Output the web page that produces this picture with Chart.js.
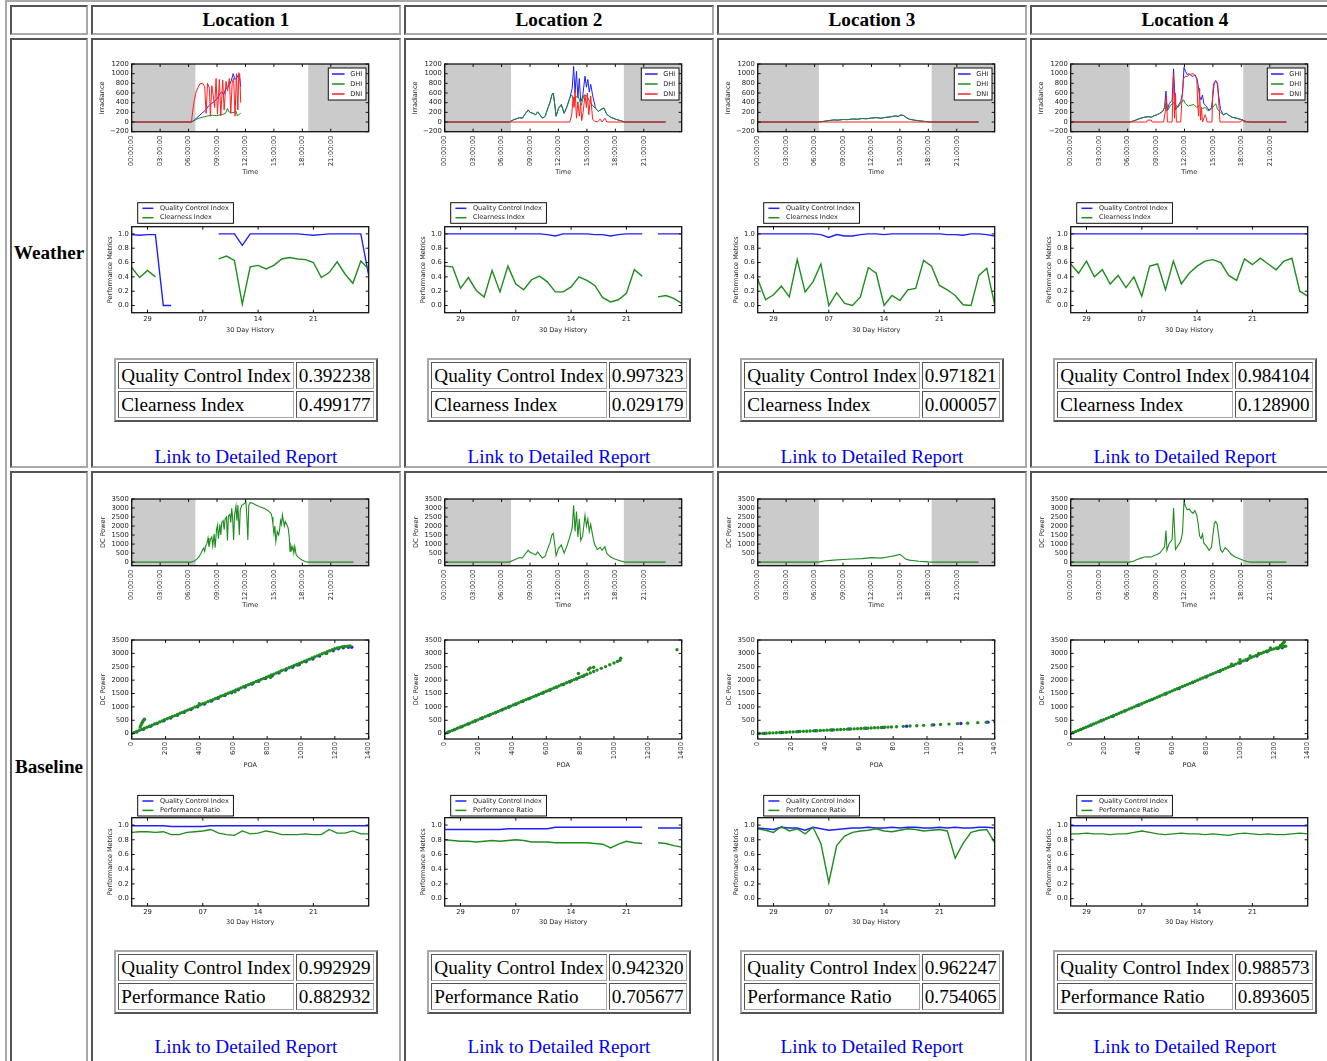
<!DOCTYPE html>
<html lang="en">
<head>
<meta charset="UTF-8">
<title>Site Status Overview</title>
<script src="https://cdn.jsdelivr.net/npm/chart.js@4.4.1/dist/chart.umd.min.js"></script>
<style>
  html, body { margin: 0; padding: 0; overflow: hidden; background: #fff; }
  body { font-family: "Liberation Serif", "Times New Roman", serif; font-size: 19.2px; color: #000; }
  table.grid { position: absolute; left: 5px; top: 0; border: 2px outset #a8a8a8; border-spacing: 3px; }
  td.c { border: 2px inset #a8a8a8; padding: 0; vertical-align: top; }
  .head { height: 26px; line-height: 26px; text-align: center; font-weight: bold; }
  .rowname { width: 74px; display: flex; align-items: center; justify-content: center; font-weight: bold; }
  .cell { position: relative; width: 306px; }
  .wx { height: 426px; }
  .base { height: 588px; }
  .cell canvas { position: absolute; left: 0; filter: blur(0.35px); }
  .sum { position: absolute; left: 0; width: 100%; }
  table.summary { margin: 0 auto; border: 2px outset #a8a8a8; border-spacing: 2px; }
  table.summary td { border: 1px inset #a8a8a8; padding: 1px 2px; line-height: 23px; white-space: nowrap; }
  .link { position: absolute; left: 0; width: 100%; text-align: center; line-height: 22px; }
  .link a { color: #0000ee; text-decoration: none; }
</style>
</head>
<body>
<table class="grid" id="grid"></table>
<script>
// ---- axes ----
const hourTicks = [0, 3, 6, 9, 12, 15, 18, 21];
const hourLabels = ['00:00:00', '03:00:00', '06:00:00', '09:00:00', '12:00:00', '15:00:00', '18:00:00', '21:00:00'];
const irradianceTicks = [-200, 0, 200, 400, 600, 800, 1000, 1200];
const powerTicks = [0, 500, 1000, 1500, 2000, 2500, 3000, 3500];
const metricTicks = [0, 0.2, 0.4, 0.6, 0.8, 1.0];
const dayTicks = [2, 9, 16, 23];
const dayLabels = ['29', '07', '14', '21'];
const poaTicks = [0, 200, 400, 600, 800, 1000, 1200, 1400];
const poaTicksLow = [0, 20, 40, 60, 80, 100, 120, 140];

const locations = ['Location 1', 'Location 2', 'Location 3', 'Location 4'];
const sunrise = [6.72, 7.0, 6.45, 6.23];
const sunset = [18.62, 18.9, 18.35, 18.2];

const weatherQci = ['0.392238', '0.997323', '0.971821', '0.984104'];
const clearness = ['0.499177', '0.029179', '0.000057', '0.128900'];
const baselineQci = ['0.992929', '0.942320', '0.962247', '0.988573'];
const perfRatio = ['0.882932', '0.705677', '0.754065', '0.893605'];

// ---- daily irradiance, [hour, W/m2] ----
const loc1Ghi = [[0,0],[6.3,0],[6.6,40],[7.0,110],[7.4,180],[7.8,250],[8.1,330],[8.4,380],[8.7,420],[9.0,480],[9.3,590],[9.5,620],[9.7,560],[9.9,680],[10.1,720],[10.3,770],[10.5,850],[10.7,1000],[10.9,880],[11.1,920],[11.3,990],[11.4,900],[11.5,730]];
const loc1Dhi = [[0,0],[6.3,0],[6.7,40],[7.0,75],[7.5,100],[8.0,125],[8.5,140],[9.0,130],[9.3,150],[9.6,160],[9.9,180],[10.1,280],[10.25,210],[10.5,190],[10.8,200],[11.0,230],[11.15,130],[11.3,150],[11.5,190]];
const loc1Dni = [[0,0],[6.3,0],[6.45,250],[6.6,450],[6.8,620],[7.0,720],[7.2,790],[7.5,800],[7.7,730],[7.85,180],[8.0,800],[8.2,700],[8.3,120],[8.45,750],[8.6,560],[8.75,300],[8.9,900],[9.05,160],[9.25,880],[9.4,130],[9.6,870],[9.75,250],[9.95,840],[10.1,640],[10.3,900],[10.45,180],[10.6,820],[10.75,900],[10.9,120],[11.05,1000],[11.2,250],[11.3,1020],[11.4,980],[11.5,400]];

const loc2Ghi = [[0,0],[6.8,0],[7.3,50],[7.6,70],[7.9,90],[8.2,80],[8.5,170],[8.8,250],[9.0,200],[9.3,180],[9.6,150],[9.8,210],[10.0,160],[10.3,80],[10.6,120],[10.9,300],[11.1,400],[11.3,560],[11.45,600],[11.6,380],[11.75,120],[12.0,280],[12.3,360],[12.6,180],[12.9,320],[13.2,500],[13.45,700],[13.6,1150],[13.75,600],[13.9,1050],[14.05,500],[14.2,900],[14.35,420],[14.55,520],[14.8,950],[14.95,720],[15.1,880],[15.25,620],[15.4,780],[15.6,560],[15.9,290],[16.2,220],[16.5,260],[16.8,290],[17.1,160],[17.5,100],[18.0,60],[18.5,30],[19.0,0],[23.3,0]];
const loc2Dhi = [[0,0],[6.8,0],[7.3,50],[7.6,70],[7.9,90],[8.2,80],[8.5,170],[8.8,250],[9.0,200],[9.3,180],[9.6,150],[9.8,210],[10.0,160],[10.3,80],[10.6,120],[10.9,300],[11.1,400],[11.3,560],[11.45,600],[11.6,380],[11.75,120],[12.0,280],[12.3,360],[12.6,180],[12.9,320],[13.2,500],[13.4,560],[13.6,450],[13.8,520],[14.1,520],[14.4,350],[14.7,560],[15.0,540],[15.3,420],[15.6,340],[15.9,280],[16.2,220],[16.5,260],[16.8,290],[17.1,160],[17.5,100],[18.0,60],[18.5,30],[19.0,0],[23.3,0]];
const loc2Dni = [[0,0],[13.2,0],[13.4,150],[13.55,520],[13.65,300],[13.75,660],[13.9,80],[14.05,420],[14.2,120],[14.35,380],[14.45,30],[14.6,200],[14.8,560],[14.95,300],[15.05,600],[15.2,150],[15.4,540],[15.6,60],[15.8,20],[16.1,0],[16.4,60],[16.6,0],[16.9,80],[17.1,0],[23.3,0]];

const loc3Ghi = [[0,0],[6.4,0],[7.0,15],[7.5,30],[8.0,42],[8.5,40],[9.0,52],[9.5,50],[10.0,62],[10.5,58],[11.0,72],[11.5,68],[12.0,82],[12.5,92],[13.0,78],[13.5,98],[14.0,108],[14.5,128],[14.8,116],[15.1,148],[15.4,136],[15.7,88],[16.0,58],[16.5,40],[17.0,25],[17.5,15],[18.0,5],[18.4,0],[23.3,0]];
const loc3Dhi = [[0,0],[6.4,0],[7.0,15],[7.5,30],[8.0,42],[8.5,40],[9.0,52],[9.5,50],[10.0,62],[10.5,58],[11.0,72],[11.5,68],[12.0,82],[12.5,90],[13.0,78],[13.5,96],[14.0,105],[14.5,125],[14.8,115],[15.1,140],[15.4,132],[15.7,88],[16.0,58],[16.5,40],[17.0,25],[17.5,15],[18.0,5],[18.4,0],[23.3,0]];
const loc3Dni = [[0,0],[23.3,0]];

const loc4Ghi = [[0,0],[6.2,0],[6.6,20],[7.0,50],[7.4,80],[7.8,100],[8.2,110],[8.5,100],[8.8,130],[9.1,150],[9.4,180],[9.7,220],[9.9,300],[10.05,640],[10.15,230],[10.4,380],[10.7,450],[10.85,1100],[10.95,700],[11.05,250],[11.3,330],[11.6,420],[11.8,600],[11.95,1130],[12.1,1050],[12.3,980],[12.5,1000],[12.7,960],[12.9,940],[13.1,980],[13.3,900],[13.45,760],[13.6,520],[13.75,460],[13.9,560],[14.05,380],[14.3,330],[14.6,240],[14.85,300],[15.0,550],[15.15,820],[15.3,860],[15.45,800],[15.6,560],[15.8,260],[16.1,150],[16.4,180],[16.7,140],[17.0,100],[17.5,80],[18.0,50],[18.5,10],[19.0,0],[22.75,0]];
const loc4Dhi = [[0,0],[6.2,0],[6.6,20],[7.0,50],[7.4,80],[7.8,100],[8.2,110],[8.5,100],[8.8,130],[9.1,150],[9.4,180],[9.7,220],[9.9,300],[10.1,420],[10.25,250],[10.5,330],[10.8,400],[11.0,380],[11.3,300],[11.6,380],[11.9,460],[12.1,380],[12.4,330],[12.7,350],[13.0,360],[13.3,300],[13.6,340],[13.9,280],[14.2,300],[14.5,230],[14.8,260],[15.1,330],[15.3,380],[15.5,260],[15.8,200],[16.1,150],[16.4,180],[16.7,140],[17.0,100],[17.5,80],[18.0,50],[18.5,10],[19.0,0],[22.75,0]];
const loc4Dni = [[0,0],[8.0,0],[8.1,40],[8.5,40],[8.6,0],[9.8,0],[10.0,250],[10.1,550],[10.2,0],[10.7,0],[10.85,1000],[10.95,80],[11.05,600],[11.15,0],[11.6,0],[11.75,500],[11.9,900],[12.1,950],[12.3,940],[12.5,980],[12.7,990],[12.9,1000],[13.1,970],[13.3,900],[13.4,350],[13.5,120],[13.6,700],[13.7,40],[13.8,300],[13.9,0],[14.2,150],[14.4,0],[14.9,0],[15.0,650],[15.1,800],[15.3,830],[15.5,810],[15.65,300],[15.75,0],[17.9,0],[18.1,60],[18.3,0],[22.75,0]];

// ---- daily DC power, [hour, W] ----
const loc1Power = [[0,0],[6.3,0],[6.6,60],[6.9,180],[7.1,300],[7.3,480],[7.45,650],[7.6,780],[7.7,600],[7.8,900],[7.95,1050],[8.05,1330],[8.15,850],[8.3,1250],[8.45,1400],[8.55,900],[8.7,1550],[8.8,800],[8.95,1800],[9.05,2050],[9.15,1300],[9.3,2100],[9.4,1500],[9.5,2200],[9.65,2300],[9.75,1800],[9.85,2380],[10.0,2500],[10.1,1200],[10.2,2550],[10.35,2650],[10.45,2200],[10.55,2980],[10.65,2400],[10.75,1230],[10.85,2600],[11.0,3100],[11.1,2300],[11.2,3170],[11.35,1500],[11.45,2900],[11.6,3150],[11.75,3200],[11.9,3250],[12.05,3330],[12.15,2500],[12.25,1230],[12.35,3150],[12.5,3300],[12.7,3280],[12.9,3220],[13.1,3170],[13.3,3120],[13.5,3075],[13.8,3020],[14.0,2980],[14.3,2880],[14.5,2800],[14.7,2700],[14.8,2500],[14.9,2100],[15.0,1600],[15.1,2000],[15.2,1140],[15.35,1700],[15.5,1500],[15.6,1790],[15.7,2300],[15.8,2100],[15.9,2615],[16.0,2300],[16.1,2000],[16.2,2250],[16.35,2100],[16.5,1900],[16.6,1500],[16.7,600],[16.8,900],[16.9,700],[17.0,850],[17.1,500],[17.2,870],[17.35,400],[17.5,300],[17.7,220],[18.0,100],[18.3,30],[18.6,0],[23.4,0]];
const loc2Power = [[0,0],[6.8,0],[7.3,120],[7.6,180],[7.9,250],[8.2,230],[8.5,450],[8.8,650],[9.0,550],[9.3,480],[9.6,400],[9.8,560],[10.0,430],[10.3,230],[10.6,330],[10.9,800],[11.1,1050],[11.3,1500],[11.45,1600],[11.6,1000],[11.75,350],[12.0,750],[12.3,950],[12.6,500],[12.9,900],[13.2,1400],[13.45,1900],[13.6,3150],[13.75,1700],[13.9,2800],[14.05,1400],[14.2,2400],[14.35,1200],[14.55,1450],[14.8,2600],[14.95,2000],[15.1,2400],[15.25,1700],[15.4,2100],[15.6,1500],[15.8,1000],[16.1,700],[16.4,820],[16.6,650],[16.9,850],[17.1,480],[17.5,280],[18.0,160],[18.5,80],[19.0,0],[23.3,0]];
const loc3Power = [[0,0],[6.4,0],[7.0,60],[8.0,110],[9.0,140],[10.0,170],[11.0,190],[12.0,250],[13.0,220],[14.0,310],[14.5,360],[15.0,430],[15.3,320],[15.6,170],[16.0,110],[17.0,50],[18.0,10],[18.4,0],[23.3,0]];
const loc4Power = [[0,0],[6.2,0],[6.6,50],[7.0,140],[7.4,220],[7.8,280],[8.2,300],[8.5,280],[8.8,360],[9.1,420],[9.4,500],[9.7,700],[9.9,850],[10.05,1750],[10.15,650],[10.4,1050],[10.7,1250],[10.85,3000],[10.95,1900],[11.05,700],[11.3,900],[11.6,1150],[11.8,1650],[11.95,3400],[12.1,3100],[12.3,2900],[12.5,2950],[12.7,2800],[12.9,2700],[13.1,2850],[13.3,2600],[13.45,2100],[13.6,1450],[13.75,1300],[13.9,1550],[14.05,1050],[14.3,900],[14.6,650],[14.85,820],[15.0,1500],[15.15,2150],[15.3,2250],[15.45,2100],[15.6,1500],[15.8,700],[16.0,550],[16.3,800],[16.6,650],[16.9,450],[17.3,300],[17.8,180],[18.2,100],[18.6,30],[19.0,0],[22.75,0]];

// ---- POA vs DC power, [W/m2, W] ----
const loc1ScatterModel = [[30,60],[70,165],[110,270],[150,375],[190,480],[230,585],[270,690],[310,800],[350,900],[390,1005],[430,1110],[470,1215],[510,1320],[550,1430],[590,1530],[630,1640],[670,1745],[710,1850],[750,1955],[790,2060],[830,2165],[870,2270],[910,2375],[950,2480],[990,2580],[1030,2690],[1070,2790],[1110,2900],[1150,3000],[1190,3100],[1220,3170],[1250,3210],[1280,3230],[1300,3230]];
const loc1ScatterMeas = [[0,10],[15,45],[30,85],[45,125],[50,250],[55,320],[60,390],[65,450],[70,500],[75,540],[60,160],[75,200],[90,240],[105,280],[120,315],[135,360],[150,395],[165,440],[180,475],[195,520],[210,555],[225,600],[240,640],[255,675],[270,715],[285,760],[300,795],[315,835],[330,880],[345,915],[360,955],[375,1000],[390,1035],[400,1120],[405,1075],[420,1115],[435,1150],[450,1195],[465,1235],[480,1270],[495,1315],[510,1350],[525,1395],[540,1430],[555,1475],[570,1510],[585,1550],[600,1590],[610,1560],[615,1635],[630,1670],[645,1710],[660,1750],[675,1790],[690,1830],[705,1870],[720,1905],[735,1950],[750,1985],[765,2030],[780,2065],[795,2110],[810,2145],[820,2100],[825,2190],[840,2225],[855,2270],[870,2305],[885,2350],[900,2385],[915,2430],[930,2465],[945,2505],[960,2545],[975,2590],[980,2560],[990,2625],[1005,2665],[1020,2705],[1035,2745],[1050,2785],[1065,2825],[1080,2865],[1095,2905],[1110,2945],[1125,2985],[1140,3020],[1150,3000],[1155,3065],[1170,3100],[1185,3140],[1200,3175],[1215,3200],[1230,3225],[1245,3245],[1260,3260],[1275,3270],[1290,3275]];
const loc2ScatterModel = [[20,50],[60,155],[100,260],[140,365],[180,470],[220,575],[260,680],[300,785],[340,890],[380,995],[420,1100],[460,1205],[500,1310],[540,1415],[580,1520],[620,1625],[660,1730],[700,1835],[740,1940],[780,2045],[820,2150]];
const loc2ScatterMeas = [[0,5],[15,40],[30,80],[45,120],[60,160],[75,200],[90,240],[105,280],[120,320],[135,355],[150,395],[165,435],[180,475],[195,515],[210,555],[225,595],[240,635],[255,675],[270,715],[285,750],[300,790],[315,830],[330,870],[345,910],[360,950],[375,990],[390,1030],[405,1070],[420,1110],[435,1150],[450,1190],[465,1230],[480,1270],[495,1305],[510,1345],[525,1385],[540,1425],[555,1465],[570,1505],[585,1545],[600,1585],[615,1625],[630,1665],[645,1705],[660,1745],[675,1785],[690,1825],[705,1860],[720,1900],[735,1940],[750,1980],[765,2020],[780,2060],[790,2250],[795,2100],[810,2140],[825,2180],[840,2220],[850,2400],[860,2270],[860,2460],[880,2320],[880,2480],[900,2375],[925,2440],[950,2505],[975,2575],[1000,2640],[1020,2700],[1035,2740],[1040,2820],[1372,3140]];
const loc3ScatterModel = [[4,12],[14,44],[24,76],[34,107],[44,139],[54,171],[64,202],[74,234],[88,278],[104,329],[120,379],[136,430]];
const loc3ScatterMeas = [[1,3],[3,9],[5,16],[7,22],[9,28],[11,35],[13,41],[15,47],[17,54],[19,60],[21,66],[23,73],[25,79],[27,85],[29,92],[31,98],[33,104],[35,111],[37,117],[39,123],[41,130],[43,136],[45,142],[47,149],[49,155],[51,161],[53,168],[55,174],[57,180],[59,187],[61,193],[63,199],[65,206],[67,212],[69,218],[71,225],[73,231],[75,237],[77,244],[79,250],[82,259],[86,272],[90,285],[94,297],[98,310],[103,326],[108,342],[113,357],[118,373],[124,392],[130,411],[135,427],[140,443]];
const loc4ScatterModel = [[15,40],[60,160],[120,320],[180,480],[250,650],[320,850],[400,1060],[480,1270],[560,1480],[640,1690],[720,1910],[800,2120],[880,2330],[960,2550],[1000,2640],[1040,2740],[1100,2900],[1160,3060],[1220,3180],[1250,3210]];
const loc4ScatterMeas = [[0,5],[15,40],[30,80],[45,120],[60,160],[75,200],[90,240],[105,280],[120,320],[135,360],[150,400],[165,440],[180,480],[195,520],[210,560],[225,600],[240,640],[255,680],[270,720],[285,760],[300,800],[315,840],[330,880],[345,920],[360,960],[375,1000],[390,1040],[405,1080],[420,1120],[435,1160],[450,1200],[465,1240],[480,1280],[495,1320],[510,1360],[525,1400],[540,1440],[555,1480],[570,1520],[585,1560],[600,1600],[615,1640],[630,1680],[645,1720],[660,1760],[675,1800],[690,1840],[705,1880],[720,1920],[735,1960],[750,2000],[765,2040],[780,2080],[795,2120],[810,2160],[825,2200],[840,2240],[855,2280],[870,2320],[885,2360],[900,2400],[915,2440],[930,2480],[945,2520],[950,2600],[960,2560],[975,2600],[990,2640],[1000,2760],[1005,2680],[1020,2720],[1035,2760],[1050,2800],[1060,2900],[1065,2840],[1080,2880],[1095,2920],[1110,2960],[1110,3000],[1125,3000],[1140,3040],[1155,3080],[1170,3110],[1180,3200],[1185,3140],[1200,3170],[1215,3200],[1225,3180],[1230,3220],[1240,3300],[1245,3240],[1250,3350],[1258,3400],[1260,3260],[1262,3430],[1270,3270]];

// ---- 30 day history, one value per day ----
const loc1WxQci = [0.99,0.98,0.99,0.99,0.0,0.0,null,null,null,null,null,1.0,1.0,1.0,0.84,1.0,1.0,1.0,1.0,1.0,1.0,1.0,0.99,0.98,0.99,1.0,1.0,1.0,1.0,1.0,0.42];
const loc1Clearness = [0.53,0.39,0.49,0.40,null,null,null,null,null,null,null,0.65,0.69,0.63,0.02,0.54,0.56,0.51,0.56,0.65,0.67,0.65,0.64,0.60,0.39,0.46,0.61,0.44,0.31,0.62,0.51];
const loc2WxQci = [1.0,1.0,1.0,1.0,1.0,1.0,1.0,1.0,1.0,1.0,1.0,1.0,1.0,0.99,0.97,1.0,1.0,1.0,1.0,0.99,0.99,0.97,0.99,1.0,1.0,1.0,null,1.0,1.0,1.0,1.0];
const loc2Clearness = [0.55,0.54,0.24,0.39,0.21,0.12,0.49,0.19,0.55,0.30,0.22,0.36,0.41,0.33,0.19,0.19,0.26,0.40,0.35,0.28,0.11,0.05,0.08,0.17,0.50,0.41,null,0.12,0.14,0.10,0.03];
const loc3WxQci = [1.0,1.0,1.0,1.0,1.0,1.0,1.0,1.0,0.99,0.95,0.99,0.97,0.97,0.99,1.0,1.0,0.99,1.0,1.0,1.0,1.0,1.0,1.0,1.0,0.99,0.99,0.98,1.0,1.0,0.99,0.97];
const loc3Clearness = [0.37,0.08,0.15,0.27,0.12,0.64,0.19,0.33,0.58,0.0,0.18,0.03,0.0,0.12,0.53,0.45,0.0,0.14,0.07,0.22,0.24,0.63,0.55,0.28,0.22,0.14,0.01,0.0,0.42,0.52,0.01];
const loc4WxQci = [1.0,1.0,1.0,1.0,1.0,1.0,1.0,1.0,1.0,1.0,1.0,1.0,1.0,1.0,1.0,1.0,1.0,1.0,1.0,1.0,1.0,1.0,1.0,1.0,1.0,1.0,1.0,1.0,1.0,1.0,1.0];
const loc4Clearness = [0.58,0.45,0.62,0.40,0.50,0.30,0.42,0.25,0.40,0.13,0.55,0.58,0.22,0.62,0.30,0.45,0.55,0.62,0.64,0.60,0.42,0.35,0.65,0.57,0.66,0.58,0.50,0.62,0.66,0.20,0.13];

const loc1BaseQci = [0.99,0.99,0.99,0.99,0.99,0.98,0.98,0.98,0.98,0.98,0.99,0.99,0.99,0.99,0.99,0.99,0.99,0.99,0.99,0.99,0.99,0.99,0.99,0.99,0.99,0.99,0.99,0.99,0.99,0.99,0.99];
const loc1Pr = [0.90,0.91,0.91,0.90,0.91,0.87,0.87,0.90,0.91,0.92,0.94,0.89,0.87,0.86,0.92,0.88,0.89,0.92,0.90,0.87,0.87,0.87,0.88,0.87,0.87,0.94,0.89,0.89,0.92,0.88,0.88];
const loc2BaseQci = [0.94,0.94,0.94,0.94,0.94,0.94,0.94,0.94,0.95,0.95,0.95,0.95,0.95,0.95,0.97,0.97,0.97,0.97,0.97,0.97,0.97,0.97,0.97,0.97,0.97,0.97,null,0.96,0.96,0.96,0.96];
const loc2Pr = [0.80,0.79,0.78,0.78,0.77,0.78,0.79,0.78,0.79,0.80,0.79,0.77,0.77,0.77,0.76,0.76,0.76,0.76,0.76,0.75,0.74,0.69,0.74,0.78,0.76,0.75,null,0.76,0.75,0.72,0.70];
const loc3BaseQci = [0.96,0.95,0.94,0.97,0.96,0.96,0.93,0.97,0.95,0.93,0.94,0.95,0.96,0.96,0.97,0.96,0.96,0.97,0.96,0.97,0.97,0.96,0.96,0.97,0.96,0.97,0.96,0.96,0.97,0.97,0.96];
const loc3Pr = [0.95,0.93,0.90,0.98,0.92,0.95,0.88,0.97,0.75,0.22,0.72,0.85,0.90,0.92,0.93,0.95,0.92,0.91,0.93,0.95,0.94,0.92,0.93,0.94,0.92,0.55,0.75,0.90,0.93,0.94,0.76];
const loc4BaseQci = [0.99,0.99,0.99,0.99,0.99,0.99,0.99,0.99,0.99,0.99,0.99,0.99,0.99,0.99,0.99,0.99,0.99,0.99,0.99,0.99,0.99,0.99,0.99,0.99,0.99,0.99,0.99,0.99,0.99,0.99,0.99];
const loc4Pr = [0.88,0.88,0.89,0.88,0.88,0.87,0.88,0.88,0.90,0.92,0.90,0.88,0.87,0.88,0.89,0.88,0.88,0.87,0.88,0.87,0.86,0.88,0.89,0.88,0.87,0.88,0.87,0.87,0.88,0.89,0.88];

const ghiByLoc = [loc1Ghi, loc2Ghi, loc3Ghi, loc4Ghi];
const dhiByLoc = [loc1Dhi, loc2Dhi, loc3Dhi, loc4Dhi];
const dniByLoc = [loc1Dni, loc2Dni, loc3Dni, loc4Dni];
const powerByLoc = [loc1Power, loc2Power, loc3Power, loc4Power];
const modelByLoc = [loc1ScatterModel, loc2ScatterModel, loc3ScatterModel, loc4ScatterModel];
const measByLoc = [loc1ScatterMeas, loc2ScatterMeas, loc3ScatterMeas, loc4ScatterMeas];
const poaTicksByLoc = [poaTicks, poaTicks, poaTicksLow, poaTicks];
const wxQciByLoc = [loc1WxQci, loc2WxQci, loc3WxQci, loc4WxQci];
const clearnessByLoc = [loc1Clearness, loc2Clearness, loc3Clearness, loc4Clearness];
const baseQciByLoc = [loc1BaseQci, loc2BaseQci, loc3BaseQci, loc4BaseQci];
const prByLoc = [loc1Pr, loc2Pr, loc3Pr, loc4Pr];

// ---- page skeleton ----
const grid = document.getElementById('grid');
let rows = '<tr><td class="c"><div class="head" style="width:74px"></div></td>' +
  locations.map(n => `<td class="c"><div class="head" style="width:306px">${n}</div></td>`).join('') + '</tr>';

rows += '<tr><td class="c"><div class="rowname wx">Weather</div></td>' + locations.map((n, i) => `
  <td class="c"><div class="cell wx">
    <canvas id="irr${i}" width="306" height="140" style="top:0"></canvas>
    <canvas id="wxm${i}" width="306" height="148" style="top:150px"></canvas>
    <div class="sum" style="top:318px"><table class="summary">
      <tr><td>Quality Control Index</td><td>${weatherQci[i]}</td></tr>
      <tr><td>Clearness Index</td><td>${clearness[i]}</td></tr>
    </table></div>
    <div class="link" style="top:405.7px"><a href="#">Link to Detailed Report</a></div>
  </div></td>`).join('') + '</tr>';

rows += '<tr><td class="c"><div class="rowname base">Baseline</div></td>' + locations.map((n, i) => `
  <td class="c"><div class="cell base">
    <canvas id="pow${i}" width="306" height="140" style="top:0"></canvas>
    <canvas id="poa${i}" width="306" height="160" style="top:140px"></canvas>
    <canvas id="bam${i}" width="306" height="157" style="top:300px"></canvas>
    <div class="sum" style="top:477px"><table class="summary">
      <tr><td>Quality Control Index</td><td>${baselineQci[i]}</td></tr>
      <tr><td>Performance Ratio</td><td>${perfRatio[i]}</td></tr>
    </table></div>
    <div class="link" style="top:562.7px"><a href="#">Link to Detailed Report</a></div>
  </div></td>`).join('') + '</tr>';
grid.innerHTML = rows;

// ---- chart styling ----
const ink = '#1c1c1c';
const tickFont = { family: 'DejaVu Sans', size: 6.8 };
const titleFont = { family: 'DejaVu Sans', size: 6.5 };
const AREA_LEFT = 38.7;
const AREA_RIGHT = 275.7;
const BLUE = '#1f1fff';
const GREEN = '#1e8c1e';
const RED = '#ff1f1f';

// grey night-time bands behind the daily curves
const nightShade = {
  id: 'nightShade',
  beforeDatasetsDraw(chart, args, opts) {
    const { ctx, chartArea: a, scales: { x } } = chart;
    const rise = x.getPixelForValue(opts.sunrise);
    const set = x.getPixelForValue(opts.sunset);
    ctx.save();
    ctx.fillStyle = opts.color;
    ctx.fillRect(a.left, a.top, rise - a.left, a.bottom - a.top);
    ctx.fillRect(set, a.top, a.right - set, a.bottom - a.top);
    ctx.restore();
  }
};

// boxed axes with short inward ticks on all four sides
const axesFrame = {
  id: 'axesFrame',
  afterDatasetsDraw(chart) {
    const { ctx, chartArea: a, scales: { x, y } } = chart;
    const len = 3;
    ctx.save();
    ctx.strokeStyle = '#111';
    ctx.lineWidth = 1;
    ctx.beginPath();
    x.ticks.forEach(t => {
      const px = x.getPixelForValue(t.value);
      ctx.moveTo(px, a.bottom); ctx.lineTo(px, a.bottom - len);
      ctx.moveTo(px, a.top); ctx.lineTo(px, a.top + len);
    });
    y.ticks.forEach(t => {
      const py = y.getPixelForValue(t.value);
      ctx.moveTo(a.left, py); ctx.lineTo(a.left + len, py);
      ctx.moveTo(a.right, py); ctx.lineTo(a.right - len, py);
    });
    ctx.stroke();
    ctx.lineWidth = 1.3;
    ctx.strokeRect(a.left, a.top, a.right - a.left, a.bottom - a.top);
    ctx.restore();
  }
};

// framed legend, either inside the top-right corner or above the axes
const boxLegend = {
  id: 'boxLegend',
  afterDraw(chart, args, o) {
    const { ctx, chartArea: a } = chart;
    const items = chart.data.datasets.filter(d => d.label);
    ctx.save();
    ctx.font = `${o.fontSize}px "DejaVu Sans"`;
    const textW = Math.max(...items.map(d => ctx.measureText(d.label).width));
    const w = o.padX * 2 + o.sample + o.gap + textW;
    const h = o.padY * 2 + o.rowHeight * items.length;
    const left = o.place === 'inside' ? a.right - o.dx - w : a.left + o.dx;
    const top = o.place === 'inside' ? a.top + o.dy : a.top - o.dy - h;
    ctx.fillStyle = '#fff';
    ctx.fillRect(left, top, w, h);
    ctx.strokeStyle = '#111';
    ctx.lineWidth = 1;
    ctx.strokeRect(left, top, w, h);
    items.forEach((d, i) => {
      const cy = top + o.padY + o.rowHeight * (i + 0.5);
      ctx.strokeStyle = d.borderColor;
      ctx.lineWidth = 1.5;
      ctx.beginPath();
      ctx.moveTo(left + o.padX, cy);
      ctx.lineTo(left + o.padX + o.sample, cy);
      ctx.stroke();
      ctx.fillStyle = ink;
      ctx.textBaseline = 'middle';
      ctx.fillText(d.label, left + o.padX + o.sample + o.gap, cy);
    });
    ctx.restore();
  }
};

const insideLegend = { place: 'inside', dx: 2.7, dy: 4, padX: 3.7, padY: 1, sample: 12.6, gap: 5.7, rowHeight: 10, fontSize: 6.6 };
const aboveLegend = (dy) => ({ place: 'above', dx: 6, dy, padX: 4.7, padY: 0.9, sample: 11, gap: 6.6, rowHeight: 9.4, fontSize: 6.5 });

const signed = v => (v < 0 ? '\u2212' + (-v) : String(v));

function axisSpec(s, horizontal, size) {
  return {
    type: 'linear',
    bounds: 'data',
    min: s.min,
    max: s.max,
    afterBuildTicks: ax => { ax.ticks = s.ticks.map(v => ({ value: v })); },
    afterFit: ax => { if (horizontal) ax.height = size; else ax.width = size; },
    ticks: {
      autoSkip: false,
      minRotation: s.rotate || 0,
      maxRotation: s.rotate || 0,
      padding: s.pad,
      font: tickFont,
      color: ink,
      callback: (v, i) => s.labels[i]
    },
    grid: { display: false, drawTicks: false },
    border: { display: false },
    title: {
      display: true, text: s.title, font: titleFont, color: ink,
      padding: horizontal ? { top: 0, bottom: 3.4 } : { top: s.titlePad, bottom: 0 }
    }
  };
}

function draw(id, type, datasets, frame, extras) {
  const canvas = document.getElementById(id);
  return new Chart(canvas, {
    type,
    data: { datasets },
    options: {
      responsive: false,
      animation: false,
      events: [],
      devicePixelRatio: 1,
      layout: { padding: { left: 0, top: frame.top, right: canvas.width - AREA_RIGHT, bottom: 0 } },
      plugins: {
        legend: { display: false },
        tooltip: { enabled: false },
        nightShade: extras.night || false,
        boxLegend: extras.legend || false
      },
      scales: {
        x: axisSpec(frame.x, true, canvas.height - frame.bottom),
        y: axisSpec(frame.y, false, AREA_LEFT)
      }
    },
    plugins: [nightShade, axesFrame, boxLegend]
  });
}

// later series in each list are painted over the earlier ones
const stacked = sets => sets.map((d, k) => ({ ...d, order: sets.length - k }));

const pts = pairs => pairs.map(([x, y]) => ({ x, y }));
const daily = values => values.map((y, x) => ({ x, y }));
const line = (label, data, color, width) => ({
  label, data, borderColor: color, backgroundColor: color,
  borderWidth: width, pointRadius: 0, tension: 0, fill: false
});
const dots = (data, color) => ({ data, backgroundColor: color, borderWidth: 0, pointRadius: 1.7 });

const hourAxis = { min: 0, max: 25, ticks: hourTicks, labels: hourLabels, rotate: 90, pad: 4, title: 'Time' };
const dayAxis = { min: 0, max: 30, ticks: dayTicks, labels: dayLabels, pad: 2.5, title: '30 Day History' };
const irrAxis = { min: -200, max: 1200, ticks: irradianceTicks, labels: irradianceTicks.map(signed), pad: 3, title: 'Irradiance', titlePad: 5.8 };
const powerAxis = { min: -200, max: 3500, ticks: powerTicks, labels: powerTicks.map(String), pad: 3, title: 'DC Power', titlePad: 6.8 };
const metricAxis = { min: -0.1, max: 1.1, ticks: metricTicks, labels: metricTicks.map(v => v.toFixed(1)), pad: 3, title: 'Performance Metrics', titlePad: 13.1 };

locations.forEach((name, i) => {
  const night = { sunrise: sunrise[i], sunset: sunset[i], color: '#cbcbcb' };

  draw(`irr${i}`, 'line', stacked([
    line('GHI', pts(ghiByLoc[i]), BLUE, 1),
    line('DHI', pts(dhiByLoc[i]), GREEN, 1),
    line('DNI', pts(dniByLoc[i]), RED, 1)
  ]), { top: 24, bottom: 91.7, x: hourAxis, y: irrAxis }, { night, legend: insideLegend });

  draw(`wxm${i}`, 'line', stacked([
    line('Quality Control Index', daily(wxQciByLoc[i]), BLUE, 1.4),
    line('Clearness Index', daily(clearnessByLoc[i]), GREEN, 1.4)
  ]), { top: 36.7, bottom: 122.7, x: dayAxis, y: metricAxis }, { legend: aboveLegend(3.4) });

  draw(`pow${i}`, 'line', [
    line('', pts(powerByLoc[i]), GREEN, 1.1)
  ], { top: 26, bottom: 92.7, x: hourAxis, y: powerAxis }, { night });

  const poa = poaTicksByLoc[i];
  draw(`poa${i}`, 'scatter', stacked([
    dots(pts(modelByLoc[i]), BLUE),
    dots(pts(measByLoc[i]), GREEN)
  ]), {
    top: 27, bottom: 126,
    x: { min: 0, max: poa[poa.length - 1], ticks: poa, labels: poa.map(String), rotate: 90, pad: 3, title: 'POA' },
    y: powerAxis
  }, {});

  draw(`bam${i}`, 'line', stacked([
    line('Quality Control Index', daily(baseQciByLoc[i]), BLUE, 1.4),
    line('Performance Ratio', daily(prByLoc[i]), GREEN, 1.4)
  ]), { top: 44.7, bottom: 133, x: dayAxis, y: metricAxis }, { legend: aboveLegend(1.7) });
});
</script>
</body>
</html>
